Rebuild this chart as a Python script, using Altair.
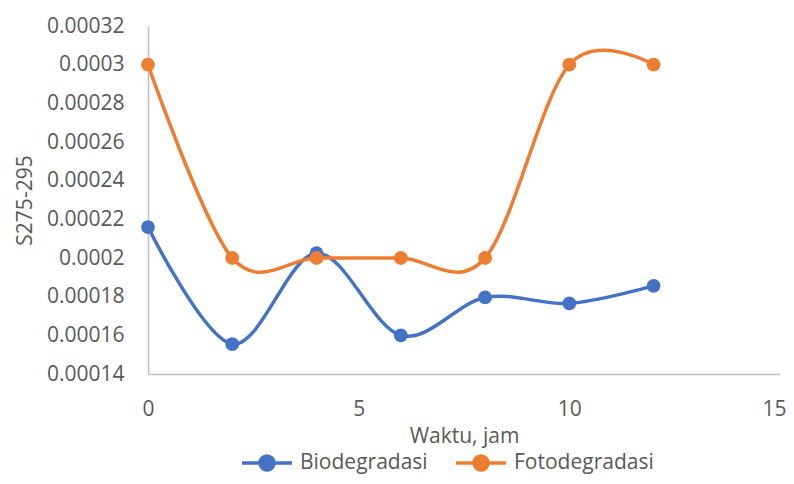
import altair as alt
import pandas as pd

# Data
waktu = [0, 2, 4, 6, 8, 10, 12]
biodegradasi = [0.000216, 0.0001555, 0.0002025, 0.00016, 0.0001796, 0.0001765, 0.0001856]
fotodegradasi = [0.0003, 0.0002, 0.0002, 0.0002, 0.0002, 0.0003, 0.0003]
series_names = ["Biodegradasi", "Fotodegradasi"]
series_colors = ["#4472C4", "#ED7D31"]
x_ticks = [0, 5, 10, 15]
y_ticks = [0.00014, 0.00016, 0.00018, 0.0002, 0.00022, 0.00024,
           0.00026, 0.00028, 0.0003, 0.00032]

rows = []
for name, vals in zip(series_names, [biodegradasi, fotodegradasi]):
    for t, v in zip(waktu, vals):
        rows.append({"waktu": t, "nilai": v, "seri": name})
df = pd.DataFrame(rows)

FONT = "Open Sans"
TXT = "#595959"
legend_symbol = ("M-1,0L1,0M-0.28,0a0.28,0.28 0 1,0 0.56,0"
                 "a0.28,0.28 0 1,0 -0.56,0")

base = alt.Chart(df).encode(
    x=alt.X("waktu:Q",
            scale=alt.Scale(domain=[0, 15], nice=False),
            axis=alt.Axis(values=x_ticks, title="Waktu, jam", format="d",
                          labelFlush=True, labelFlushOffset=6,
                          labelPadding=24, titlePadding=6)),
    y=alt.Y("nilai:Q",
            scale=alt.Scale(domain=[0.00014, 0.00032], nice=False, zero=False),
            axis=alt.Axis(values=y_ticks, title="S275-295", format="~g",
                          labelPadding=24, titlePadding=11)),
    color=alt.Color("seri:N",
                    scale=alt.Scale(domain=series_names, range=series_colors),
                    legend=alt.Legend(orient="none", legendX=92, legendY=410,
                                      direction="horizontal", title=None,
                                      symbolType=legend_symbol, symbolSize=2500,
                                      symbolStrokeWidth=3.5,
                                      labelFont=FONT, labelFontSize=21,
                                      labelColor=TXT, labelOffset=6,
                                      columnPadding=21)),
)

line = base.mark_line(interpolate="cardinal", strokeWidth=3.5)
pts = base.mark_point(filled=True, size=190, opacity=1, shape="circle")

chart = (line + pts).properties(
    width=632, height=348,
    autosize=alt.AutoSizeParams(type="none"),
    padding={"left": 140, "top": 18, "right": 6, "bottom": 102},
).configure_view(stroke=None).configure_axis(
    grid=False, ticks=False, domainColor="#BFBFBF", domainWidth=1.5,
    labelFont=FONT, labelFontSize=21, labelColor=TXT,
    titleFont=FONT, titleFontSize=21, titleColor=TXT, titleFontWeight="normal",
)

chart.save("out.html", embed_options={"renderer": "svg", "actions": False})
